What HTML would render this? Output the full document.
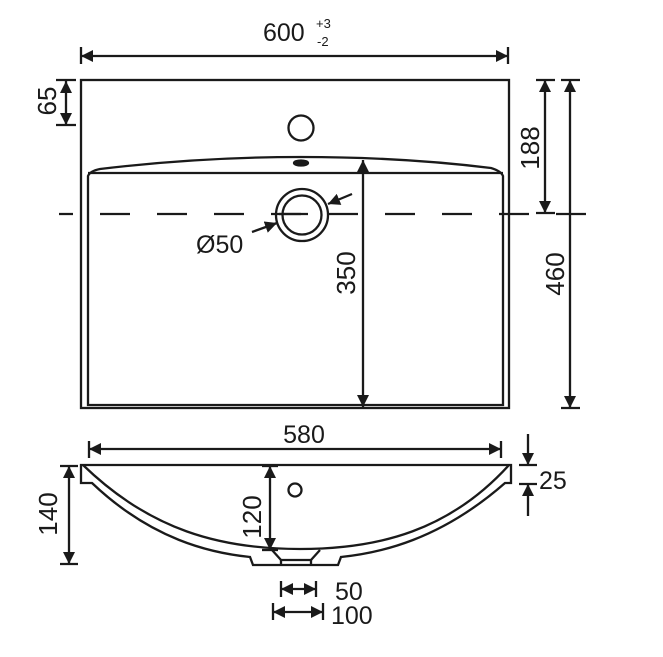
<!DOCTYPE html>
<html><head><meta charset="utf-8"><style>
html,body{margin:0;padding:0;background:#fff}
svg{display:block}
text{font-family:"Liberation Sans",sans-serif;fill:#1a1a1a}
</style></head><body>
<svg width="663" height="657" viewBox="0 0 663 657" xmlns="http://www.w3.org/2000/svg">
<defs>
<marker id="b" viewBox="0 0 10 10" refX="10" refY="5" markerWidth="12" markerHeight="12" orient="auto-start-reverse" markerUnits="userSpaceOnUse">
<path d="M0,0 L10,5 L0,10 z" fill="#1a1a1a"/></marker>
</defs>
<g stroke="#1a1a1a" fill="none" stroke-width="2.3">
<!-- top view -->
<rect x="81" y="80" width="428" height="328"/>
<path d="M88,405 L88,176 Q90,171 100,169 Q200,157 301,157 Q402,157 491,168 Q501,171 503,176 L503,405 Z"/>
<line x1="88" y1="173" x2="503" y2="173"/>
<circle cx="301" cy="128" r="12.5"/>
<ellipse cx="301" cy="163" rx="7" ry="2.5" fill="#1a1a1a"/>
<circle cx="302" cy="215" r="26"/>
<circle cx="302" cy="215" r="19.5"/>
<line x1="59" y1="214" x2="587" y2="214" stroke-dasharray="14 27 30 27 30 27 30 27 30 27 30 27 30 27 30 27 30 27 30 27 30 27"/>
<line x1="279" y1="214" x2="308" y2="214"/>
<!-- 600 -->
<line x1="81" y1="56" x2="508" y2="56" marker-start="url(#b)" marker-end="url(#b)"/>
<line x1="81" y1="47" x2="81" y2="64"/><line x1="508" y1="47" x2="508" y2="64"/>
<!-- 65 -->
<line x1="66" y1="81" x2="66" y2="125" marker-start="url(#b)" marker-end="url(#b)"/>
<line x1="56" y1="80" x2="76" y2="80"/><line x1="56" y1="125" x2="76" y2="125"/>
<!-- 350 -->
<line x1="363" y1="160" x2="363" y2="407" marker-start="url(#b)" marker-end="url(#b)"/>
<!-- 188 -->
<line x1="545" y1="80" x2="545" y2="213" marker-start="url(#b)" marker-end="url(#b)"/>
<line x1="536" y1="80" x2="555" y2="80"/><line x1="536" y1="213" x2="555" y2="213"/>
<!-- 460 -->
<line x1="570" y1="80" x2="570" y2="408" marker-start="url(#b)" marker-end="url(#b)"/>
<line x1="561" y1="80" x2="580" y2="80"/><line x1="561" y1="408" x2="580" y2="408"/>
<!-- ring arrows -->
<line x1="352" y1="194" x2="328" y2="204" marker-end="url(#b)"/>
<line x1="252" y1="232" x2="277" y2="223" marker-end="url(#b)"/>

<!-- side view -->
<path d="M81,465 L511,465 L511,483 L505,483 C440,540 380,553 341,557 L338,565 L253,565 L250,557 C211,553 152,540 92,483 L81,483 Z"/>
<path d="M83,465 C150,530 220,549 300,549 C380,549 450,530 509,465"/>
<path d="M272,550 L281,560 L311,560 L320,550"/>
<line x1="281" y1="560" x2="281" y2="565"/><line x1="311" y1="560" x2="311" y2="565"/>
<circle cx="295" cy="490" r="6.5"/>
<!-- 580 -->
<line x1="89" y1="449" x2="501" y2="449" marker-start="url(#b)" marker-end="url(#b)"/>
<line x1="89" y1="441" x2="89" y2="458"/><line x1="501" y1="441" x2="501" y2="458"/>
<!-- 140 -->
<line x1="69" y1="466" x2="69" y2="564" marker-start="url(#b)" marker-end="url(#b)"/>
<line x1="60" y1="466" x2="78" y2="466"/><line x1="60" y1="564" x2="78" y2="564"/>
<!-- 120 -->
<line x1="270" y1="466" x2="270" y2="550" marker-start="url(#b)" marker-end="url(#b)"/>
<line x1="262" y1="466" x2="278" y2="466"/><line x1="262" y1="550" x2="278" y2="550"/>
<!-- 25 -->
<line x1="528" y1="434" x2="528" y2="465" marker-end="url(#b)"/>
<line x1="528" y1="516" x2="528" y2="484" marker-end="url(#b)"/>
<line x1="519" y1="465" x2="537" y2="465"/><line x1="519" y1="484" x2="537" y2="484"/>
<!-- 50 / 100 -->
<line x1="281" y1="589" x2="316" y2="589" marker-start="url(#b)" marker-end="url(#b)"/>
<line x1="281" y1="581" x2="281" y2="597"/><line x1="316" y1="581" x2="316" y2="597"/>
<line x1="273" y1="612" x2="323" y2="612" marker-start="url(#b)" marker-end="url(#b)"/>
<line x1="273" y1="603" x2="273" y2="620"/><line x1="323" y1="603" x2="323" y2="620"/>
</g>
<g stroke="none">
<text x="263" y="41" font-size="25">600</text>
<text x="316" y="28" font-size="13">+3</text>
<text x="317" y="46" font-size="13">-2</text>
<text x="196" y="253" font-size="25">Ø50</text>
<text font-size="26" text-anchor="middle" transform="translate(355,273) rotate(-90)">350</text>
<text font-size="26" text-anchor="middle" transform="translate(539,148) rotate(-90)">188</text>
<text font-size="26" text-anchor="middle" transform="translate(564,274) rotate(-90)">460</text>
<text font-size="26" text-anchor="middle" transform="translate(56,101) rotate(-90)">65</text>
<text x="304" y="443" font-size="25" text-anchor="middle">580</text>
<text font-size="26" text-anchor="middle" transform="translate(57,514) rotate(-90)">140</text>
<text font-size="26" text-anchor="middle" transform="translate(261,517) rotate(-90)">120</text>
<text x="539" y="489" font-size="25">25</text>
<text x="335" y="600" font-size="25">50</text>
<text x="331" y="624" font-size="25">100</text>
</g>
</svg>
</body></html>
